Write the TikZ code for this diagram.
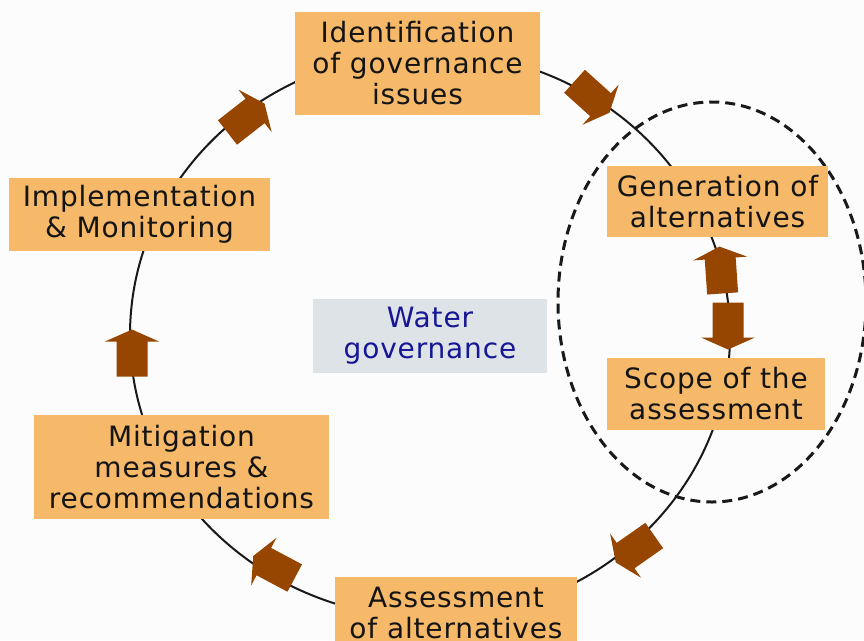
\documentclass[tikz,border=0pt]{standalone}
\usepackage{fontspec}
\setmainfont[LetterSpace=3]{DejaVu Sans}
\definecolor{pagebg}{RGB}{252,252,252}
\definecolor{stagefill}{RGB}{245,185,105}
\definecolor{hubfill}{RGB}{222,227,232}
\definecolor{hubtext}{RGB}{22,22,150}
\definecolor{arrowfill}{RGB}{150,70,0}
\tikzset{
  stage/.style={fill=stagefill, text=black!92, align=center, inner sep=0pt,
    font=\fontsize{28}{31}\selectfont},
  hub/.style={fill=hubfill, text=hubtext, align=center, inner sep=0pt,
    font=\fontsize{28}{31}\selectfont},
  ring/.style={line width=2pt, black!90},
  focus/.style={line width=3pt, black!90, dash pattern=on 10pt off 6pt},
  flow/.pic={
    \fill[arrowfill] (-23.5,-15.5) -- (11.5,-15.5) -- (11.5,-27) -- (23.5,0)
      -- (11.5,27) -- (11.5,15.5) -- (-23.5,15.5) -- cycle;
  }
}
\begin{document}
\begin{tikzpicture}[x=1pt,y=-1pt]
  \useasboundingbox (0,0) rectangle (864,640);
  \clip (0,0) rectangle (864,640);
  \fill[pagebg] (0,0) rectangle (864,640);

  % the assessment cycle and the highlighted pair of stages
  \coordinate (c) at (430,335);
  \coordinate (f) at (712,302);
  \draw[ring] (c) ellipse [x radius=300pt, y radius=283pt];
  \draw[focus] (f) ellipse [x radius=154pt, y radius=200pt];

  % direction markers along the cycle
  \pic[rotate=38]  at (246,118) {flow};
  \pic[rotate=-42] at (592,97)  {flow};
  \pic[rotate=94]  at (721,270) {flow};
  \pic[rotate=-90] at (728,326) {flow};
  \pic[rotate=215] at (635,549) {flow};
  \pic[rotate=152] at (274,567) {flow};
  \pic[rotate=90]  at (132,353) {flow};

  % stages
  \node[stage, minimum width=245pt, minimum height=103pt] (ident) at (417.5,63.5)
    {Identification\\of governance\\issues};
  \node[stage, minimum width=221pt, minimum height=71pt] (gen) at (717.5,201.5)
    {Generation of\\alternatives};
  \node[stage, minimum width=218pt, minimum height=72pt] (scope) at (716,394)
    {Scope of the\\assessment};
  \node[stage, minimum width=242pt, minimum height=72pt] (assess) at (456,613)
    {Assessment\\of alternatives};
  \node[stage, minimum width=295pt, minimum height=104pt] (mitig) at (181.5,467)
    {Mitigation\\measures \&\\recommendations};
  \node[stage, minimum width=261pt, minimum height=73pt] (impl) at (139.5,214.5)
    {Implementation\\\& Monitoring};

  % centre label
  \node[hub, minimum width=234pt, minimum height=74pt] (water) at (430,336)
    {Water\\governance};
\end{tikzpicture}
\end{document}
